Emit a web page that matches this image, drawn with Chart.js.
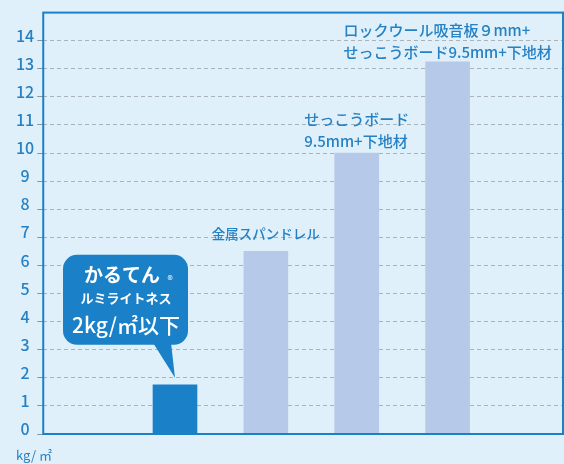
<!DOCTYPE html>
<html lang="ja">
<head>
<meta charset="UTF-8">
<title>重量比較</title>
<script src="https://cdn.jsdelivr.net/npm/chart.js"></script>
<style>
    html, body {
        margin: 0;
        padding: 0;
        background: #dff0fa;
    }
    .wrap {
        width: 564px;
        height: 464px;
        position: relative;
    }
</style>
</head>
<body>
<div class="wrap"><canvas id="weightChart"></canvas></div>
<script>
// data
const categories = ['かるてん® ルミライトネス', '金属スパンドレル', 'せっこうボード9.5mm+下地材', 'ロックウール吸音板9mm+せっこうボード9.5mm+下地材'];
const weights = [1.75, 6.5, 10, 13.25];
const barLabels = [[], ['金属スパンドレル'], ['せっこうボード', '9.5mm+下地材'], ['ロックウール吸音板９mm+', 'せっこうボード9.5mm+下地材']];
const yTicks = [0, 1, 2, 3, 4, 5, 6, 7, 8, 9, 10, 11, 12, 13, 14];
const calloutLines = ['かるてん', 'ルミライトネス', '2kg/㎡以下'];
const unitLabel = 'kg/ ㎡';

const BLUE = '#1a80c7';
const TEXT_BLUE = '#2581c4';
const LIGHT = '#b6c9e8';
const FONT = '"Noto Sans CJK JP", "Noto Sans", sans-serif';

// per-label look: font size, gap from bar top to last line
const labelSize = [0, 13.5, 15, 15];
const labelGap = [0, 18, 12, 9];

const decorations = {
    id: 'decorations',
    afterDatasetsDraw(chart) {
        const ctx = chart.ctx;
        const area = chart.chartArea;
        const bars = chart.getDatasetMeta(0).data;

        // frame
        ctx.save();
        ctx.strokeStyle = BLUE;
        ctx.lineWidth = 2;
        ctx.strokeRect(area.left, area.top, area.right - area.left, area.bottom - area.top);
        ctx.restore();

        // labels above the bars
        ctx.save();
        ctx.fillStyle = TEXT_BLUE;
        ctx.textBaseline = 'middle';
        ctx.textAlign = 'left';
        barLabels.forEach((lines, i) => {
            if (!lines.length) return;
            const bar = bars[i];
            ctx.font = '500 ' + labelSize[i] + 'px ' + FONT;
            const w = Math.max(...lines.map(l => ctx.measureText(l).width));
            const x0 = bar.x - w / 2;
            lines.forEach((l, j) => {
                const y = bar.y - labelGap[i] - (lines.length - 1 - j) * 22;
                ctx.fillText(l, x0, y);
            });
        });
        ctx.restore();

        // speech bubble over the first bar
        const b = bars[0];
        const tipX = b.x, tipY = b.y - 7;
        const left = tipX - 112, top = tipY - 123, bw = 125, bh = 90;
        ctx.save();
        ctx.fillStyle = BLUE;
        ctx.beginPath();
        ctx.roundRect(left, top, bw, bh, 14);
        ctx.fill();
        ctx.beginPath();
        ctx.moveTo(tipX - 22, top + bh - 2);
        ctx.lineTo(tipX, tipY);
        ctx.lineTo(tipX - 4, top + bh - 2);
        ctx.closePath();
        ctx.fill();

        const cx = left + 63;
        ctx.fillStyle = '#ffffff';
        ctx.textBaseline = 'middle';
        ctx.textAlign = 'center';
        ctx.font = 'bold 19px ' + FONT;
        const w0 = ctx.measureText(calloutLines[0]).width;
        ctx.fillText(calloutLines[0], cx - 4, tipY - 103);
        ctx.font = '11px ' + FONT;
        ctx.fillText('®', cx - 4 + w0 / 2 + 10, tipY - 98);
        ctx.font = 'bold 13px ' + FONT;
        ctx.fillText(calloutLines[1], cx, tipY - 80);
        ctx.font = '500 21px ' + FONT;
        ctx.fillText(calloutLines[2], cx, tipY - 53);
        ctx.restore();

        // unit under the axis
        ctx.save();
        ctx.fillStyle = TEXT_BLUE;
        ctx.font = '13px ' + FONT;
        ctx.textBaseline = 'middle';
        ctx.textAlign = 'left';
        ctx.fillText(unitLabel, 16, area.bottom + 21);
        ctx.restore();
    }
};

new Chart(document.getElementById('weightChart'), {
    type: 'bar',
    data: {
        datasets: [{
            label: '重量',
            data: weights.map((v, i) => ({ x: i + 1, y: v })),
            backgroundColor: categories.map((c, i) => i === 0 ? BLUE : LIGHT),
            barThickness: 44,
            borderWidth: 0
        }]
    },
    options: {
        responsive: true,
        maintainAspectRatio: false,
        animation: false,
        layout: { padding: { left: 13, top: 11, right: 1, bottom: 30 } },
        plugins: {
            legend: { display: false },
            tooltip: { enabled: false }
        },
        scales: {
            x: {
                type: 'linear',
                display: false,
                offset: false,
                min: -0.45,
                max: 5.27
            },
            y: {
                min: 0,
                max: 15,
                afterBuildTicks: s => { s.ticks = yTicks.map(v => ({ value: v })); },
                border: { display: false, dash: [4, 3] },
                grid: {
                    color: c => c.tick && c.tick.value === 0 ? 'rgba(0,0,0,0)' : '#aab3ba',
                    tickColor: '#8a949b',
                    tickLength: 6,
                    tickBorderDash: []
                },
                ticks: {
                    color: TEXT_BLUE,
                    font: { family: FONT, size: 16, weight: '500' },
                    crossAlign: 'center',
                    padding: 3,
                    labelOffset: -5
                }
            }
        }
    },
    plugins: [decorations]
});
</script>
</body>
</html>
